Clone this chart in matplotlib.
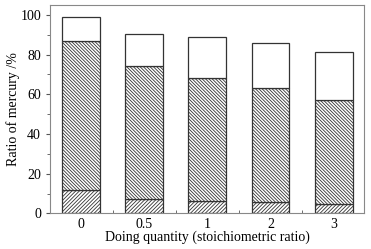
import numpy as np
import matplotlib
matplotlib.use("Agg")
import matplotlib.pyplot as plt
from matplotlib.ticker import MultipleLocator, FixedLocator

plt.rcParams['font.family'] = ['Liberation Serif', 'DejaVu Serif']
plt.rcParams['hatch.linewidth'] = 0.6

# data
labels = ['0', '0.5', '1', '2', '3']
bottom_part = [11.6, 7.3, 6.0, 5.5, 4.7]
middle_top = [86.9, 74.2, 68.0, 63.4, 57.2]
total = [99.0, 90.4, 88.9, 86.0, 81.5]

middle_part = [m - b for m, b in zip(middle_top, bottom_part)]
top_part = [t - m for t, m in zip(total, middle_top)]

x = np.arange(len(labels))
w = 0.6
edge = '#333333'

fig = plt.figure(figsize=(3.71, 2.49), dpi=100)
ax = fig.add_axes([0.135, 0.143, 0.846, 0.837])

ax.bar(x, bottom_part, w, color='white', edgecolor=edge, hatch='/' * 9, linewidth=0.9)
ax.bar(x, middle_part, w, bottom=bottom_part, color='white', edgecolor=edge,
       hatch='\\' * 10, linewidth=0.9)
ax.bar(x, top_part, w, bottom=middle_top, color='white', edgecolor=edge, linewidth=0.9)

ax.set_xlim(-0.49, 4.48)
ax.set_ylim(0, 105)
ax.set_xticks(x)
ax.set_xticklabels(labels)
ax.xaxis.set_minor_locator(FixedLocator(x[:-1] + 0.5))
ax.tick_params(axis='x', which='major', length=0, labelsize=10, pad=3)
ax.tick_params(axis='x', which='minor', direction='in', length=2.5, color='#555555')
ax.yaxis.set_major_locator(MultipleLocator(20))
ax.yaxis.set_minor_locator(MultipleLocator(10))
ax.tick_params(axis='y', which='major', direction='out', length=3, labelsize=10, color='#555555')
ax.tick_params(axis='y', which='minor', direction='out', length=2, color='#555555')
for s in ax.spines.values():
    s.set_color('#888888')
    s.set_linewidth(0.8)

ax.set_xlabel('Doing quantity (stoichiometric ratio)', fontsize=10, labelpad=0)
ax.set_ylabel('Ratio of mercury /%', fontsize=10, labelpad=0)

fig.savefig('out.png', dpi=100)
